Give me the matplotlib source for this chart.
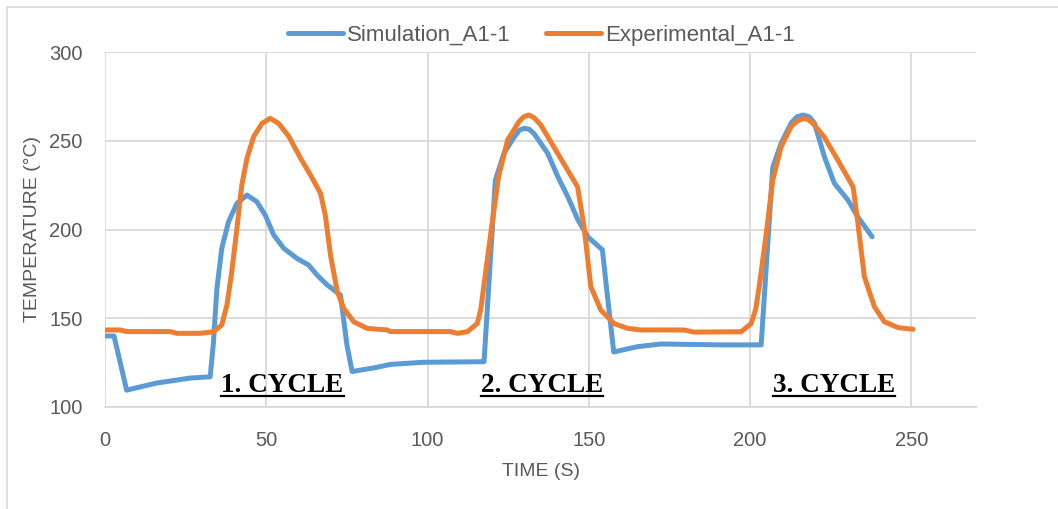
import matplotlib.pyplot as plt
from matplotlib.lines import Line2D
from matplotlib.patches import Rectangle

# --- data ---
sim_t = [0, 2.8, 6.7, 16, 26.4, 32.6, 33.6, 34.7, 36.2, 38.3, 40.9, 44, 47.1, 49.7,
         52.3, 55.4, 59.5, 63.1, 65.7, 68.9, 73, 75, 76.6, 83.3, 88.5, 98.8,
         116.5, 117.5, 121, 123.7, 126.8, 128.5, 129.9, 131.5, 133, 137.2, 140.4,
         143.5, 146.6, 149.7, 154.2, 155.3, 157.7, 165.1, 172.4, 191, 203.4,
         204.3, 207, 209.6, 212.7, 214.5, 216.4, 218.3, 219.9, 223, 226.1, 230.3,
         233.4, 237.8]
sim_T = [140, 140, 109.5, 113.5, 116.3, 117, 136, 166.9, 189.4, 204.4, 214.7, 219.4,
         215.6, 208, 196.9, 189.4, 183.7, 180, 174.4, 168.7, 163.1, 134.9, 120, 122,
         124, 125.2, 125.5, 125.5, 227.8, 243, 252, 256, 257, 256.5, 254, 243,
         229.6, 218.3, 205.4, 195.8, 188.5, 169.8, 131, 134, 135.5, 135, 135,
         160, 235, 248.6, 260, 263.5, 264.5, 263.5, 260, 241, 226, 216.6,
         207, 195.9]

exp_t = [0, 4.7, 6.7, 20.2, 22.3, 29.5, 33.6, 36.2, 37.8, 39.3, 40.9, 42.4, 44, 46.1,
         48.7, 51.2, 53.8, 57, 60.6, 63.7, 66.8, 68.3, 69.9, 72, 74, 77.1, 81.3,
         87.5, 88.5, 107, 109.2, 112.3, 115.4, 116.5, 117.4, 119.6, 122, 124.8,
         128.3, 129.8, 131.4, 133, 135.1, 139.1, 143.4, 146.5, 148.5, 150.6, 153.7,
         157.8, 162, 166.1, 179.5, 182.6, 197.2, 200.3, 201.7, 202.8, 205, 207,
         209.6, 212.7, 214.5, 216.4, 218, 219.5, 223, 227.2, 231.9, 233.4, 235.4,
         238.5, 241.6, 245.9, 250.5]
exp_T = [143.4, 143.4, 142.5, 142.5, 141.5, 141.5, 142.4, 146.2, 157.5, 176.2, 200.7,
         225, 240, 252.4, 259.8, 262.6, 259.8, 252.4, 240.2, 230.7, 220.4, 208,
         185.6, 165, 155.6, 148, 144.3, 143.4, 142.5, 142.5, 141.5, 142.4, 147,
         155, 167.8, 198, 229.8, 250.4, 260.7, 263.5, 264.5, 263, 258.9, 246.6,
         233.5, 224, 201.5, 167.8, 154.6, 147, 144.3, 143.4, 143.4, 142.2, 142.4,
         147, 155, 167.8, 198, 227.8, 246.6, 258, 261, 262.5, 262, 259.7, 252,
         239, 224, 203.4, 173.4, 156.5, 148, 144.7, 143.8]

cycle_labels = ["1. CYCLE", "2. CYCLE", "3. CYCLE"]
cycle_x = [55, 135.4, 225.9]
x_ticks = [0, 50, 100, 150, 200, 250]
y_ticks = [100, 150, 200, 250, 300]

plt.rcParams['font.family'] = ['Liberation Sans', 'DejaVu Sans']
grey = '#595959'
grid_c = '#d9d9d9'

fig = plt.figure(figsize=(10.58, 5.09), dpi=100)
ax = fig.add_axes([105 / 1058, 1 - 407 / 509, (976 - 105) / 1058, (407 - 52) / 509])

# outer chart border
fig.patches.append(Rectangle((7 / 1058, -0.1), 1.2, 1.1 - 7 / 509,
                             transform=fig.transFigure, fill=False,
                             edgecolor=grid_c, lw=1.2))

ax.plot(sim_t, sim_T, color='#5B9BD5', lw=3.6, solid_joinstyle='round',
        solid_capstyle='round', label='Simulation_A1-1', zorder=3)
ax.plot(exp_t, exp_T, color='#ED7D31', lw=3.6, solid_joinstyle='round',
        solid_capstyle='round', label='Experimental_A1-1', zorder=4)

ax.set_xlim(0, 270)
ax.set_ylim(100, 300)
ax.set_xticks(x_ticks)
ax.set_yticks(y_ticks)
ax.grid(True, color=grid_c, lw=1.3)
ax.set_axisbelow(True)
for s in ['top', 'right', 'left']:
    ax.spines[s].set_visible(False)
ax.spines['bottom'].set_color(grid_c)
ax.spines['bottom'].set_linewidth(1.3)
ax.tick_params(length=0, labelsize=14.5, colors=grey)
ax.tick_params(axis='x', pad=17)
ax.tick_params(axis='y', pad=16)

ax.set_xlabel("TIME (S)", fontsize=14, color=grey, labelpad=10)
ax.set_ylabel("TEMPERATURE (°C)", fontsize=14, color=grey, labelpad=6)

fig.legend(loc='center', bbox_to_anchor=(541 / 1058, 1 - 35 / 509), ncol=2,
           frameon=False, fontsize=16, handlelength=2.5, handletextpad=0.15,
           columnspacing=1.6, labelcolor=grey)

texts = []
for lab, cx in zip(cycle_labels, cycle_x):
    t = ax.text(cx, 108.3, lab, ha='center', va='baseline', fontsize=19.5,
                fontweight='bold', family='Liberation Serif', color='black', zorder=5)
    texts.append(t)

# underline the cycle labels
fig.canvas.draw()
r = fig.canvas.get_renderer()
inv = fig.transFigure.inverted()
for t in texts:
    bb = t.get_window_extent(renderer=r)
    x0, y0 = inv.transform((bb.x0, bb.y0 + 2))
    x1, _ = inv.transform((bb.x1, bb.y0 + 2))
    fig.add_artist(Line2D([x0, x1], [y0, y0], transform=fig.transFigure,
                          color='black', lw=1.6))

fig.savefig("out.png", dpi=100)
